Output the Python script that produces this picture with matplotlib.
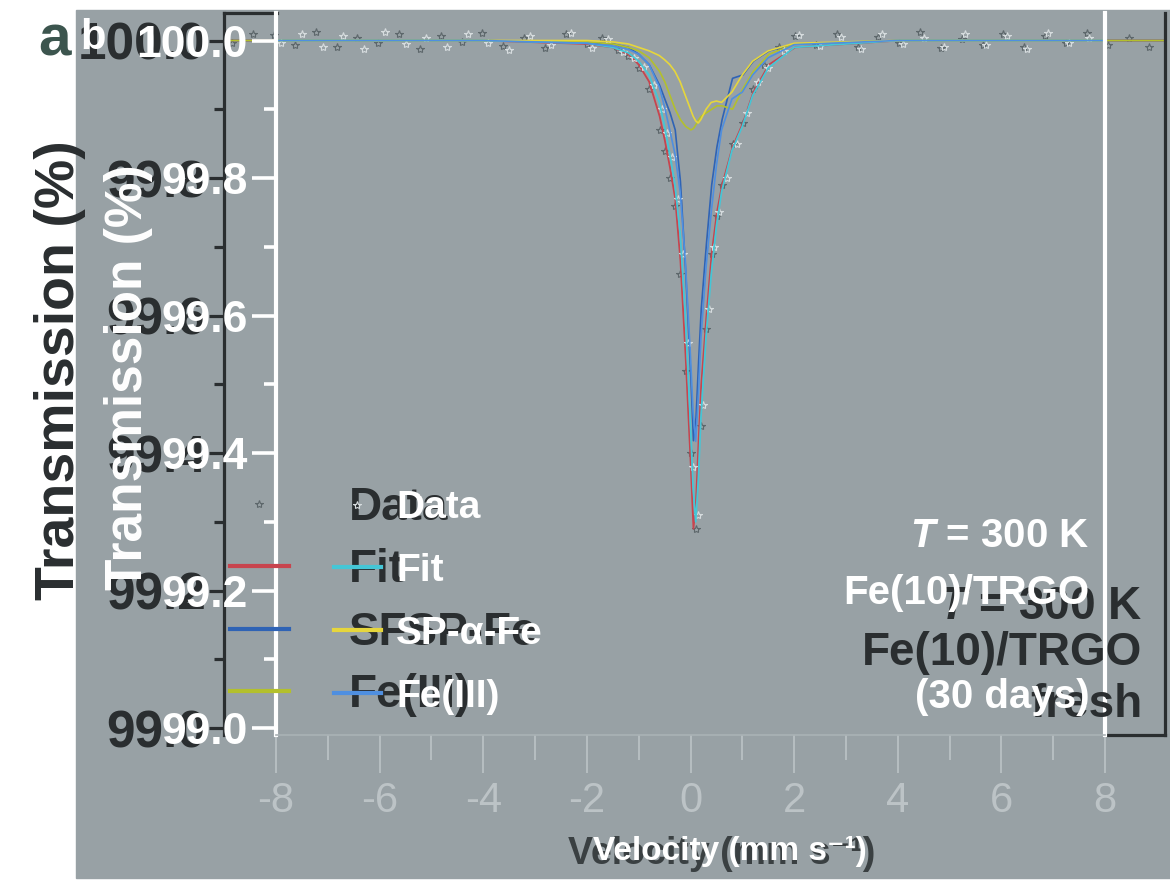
'''
Mossbauer spectra of Fe(10)/TRGO, fresh (a) and after 30 days (b), overlaid scan.
'''

import matplotlib
matplotlib.use('Agg')
import matplotlib as mpl
from matplotlib import pyplot as plt
from matplotlib.patches import Rectangle
from matplotlib.ticker import FormatStrFormatter


mpl.rcParams['font.family'] = ['Liberation Sans', 'DejaVu Sans']
mpl.rcParams['axes.unicode_minus'] = False
mpl.rcParams['mathtext.fontset'] = 'custom'
mpl.rcParams['mathtext.it'] = 'Liberation Sans:italic:bold'
mpl.rcParams['mathtext.rm'] = 'Liberation Sans:bold'

DARK = '#2a2e30'
BG = '#98a1a5'
LIGHT = '#bcc3c6'


# ---- panel a (fresh) : measured points
va_data = [-8.8, -8.4, -8.0, -7.6, -7.2, -6.8, -6.4, -6.0, -5.6, -5.2, -4.8, -4.4, -4.0, -3.6,
           -3.2, -2.8, -2.4, -2.0, -1.7, -1.4, -1.2, -1.0, -0.8, -0.6, -0.5, -0.4, -0.3, -0.2,
           -0.1, 0.0, 0.1, 0.2, 0.3, 0.4, 0.5, 0.6, 0.8, 1.0, 1.2, 1.4, 1.7, 2.0, 2.4, 2.8,
           3.2, 3.6, 4.0, 4.4, 4.8, 5.2, 5.6, 6.0, 6.4, 6.8, 7.2, 7.6, 8.0, 8.4, 8.8]
ta_data = [99.997, 100.009, 100.008, 99.994, 100.012, 99.990, 100.004, 99.996, 100.010, 99.988,
           100.006, 99.998, 100.011, 99.992, 100.003, 99.989, 100.009, 99.995, 100.004, 99.986,
           99.978, 99.960, 99.930, 99.870, 99.840, 99.800, 99.760, 99.660, 99.520, 99.400,
           99.290, 99.440, 99.580, 99.690, 99.745, 99.790, 99.850, 99.880, 99.930, 99.965,
           99.990, 100.007, 99.993, 100.010, 99.991, 100.005, 99.997, 100.012, 99.989, 100.002,
           99.994, 100.009, 99.990, 100.006, 99.996, 100.011, 99.993, 100.004, 99.991]

# ---- panel b (30 days) : measured points
vb_data = [-7.9, -7.5, -7.1, -6.7, -6.3, -5.9, -5.5, -5.1, -4.7, -4.3, -3.9, -3.5, -3.1, -2.7,
           -2.3, -1.9, -1.6, -1.3, -1.1, -0.9, -0.7, -0.55, -0.45, -0.35, -0.25, -0.15, -0.05,
           0.05, 0.15, 0.25, 0.35, 0.45, 0.55, 0.7, 0.9, 1.1, 1.3, 1.5, 1.8, 2.1, 2.5, 2.9,
           3.3, 3.7, 4.1, 4.5, 4.9, 5.3, 5.7, 6.1, 6.5, 6.9, 7.3, 7.7]
tb_data = [99.996, 100.010, 99.991, 100.006, 99.987, 100.012, 99.995, 100.004, 99.990, 100.009,
           99.997, 99.986, 100.007, 99.993, 100.011, 99.989, 100.002, 99.984, 99.975, 99.962,
           99.935, 99.900, 99.865, 99.830, 99.770, 99.690, 99.560, 99.380, 99.310, 99.470,
           99.610, 99.700, 99.750, 99.800, 99.850, 99.895, 99.940, 99.960, 99.985, 100.008,
           99.992, 100.005, 99.988, 100.010, 99.995, 100.003, 99.991, 100.009, 99.994, 100.006,
           99.987, 100.011, 99.996, 100.004]

# ---- fitted curves (velocity grid shared)
v_fit = [-8.9, -4.0, -2.0, -1.5, -1.2, -1.0, -0.8, -0.6, -0.5, -0.4, -0.3, -0.2, -0.1, 0.0,
         0.05, 0.1, 0.15, 0.2, 0.3, 0.4, 0.5, 0.6, 0.8, 1.0, 1.2, 1.5, 2.0, 4.0, 9.1]
fit_a = [100.0, 100.0, 99.995, 99.99, 99.98, 99.965, 99.94, 99.89, 99.855, 99.815, 99.77,
         99.68, 99.54, 99.38, 99.29, 99.33, 99.42, 99.50, 99.60, 99.69, 99.75, 99.79, 99.845,
         99.88, 99.925, 99.965, 99.99, 100.0, 100.0]
sfsp_a = [100.0, 100.0, 99.997, 99.995, 99.99, 99.98, 99.965, 99.935, 99.915, 99.895, 99.87,
          99.795, 99.665, 99.51, 99.418, 99.452, 99.535, 99.61, 99.705, 99.79, 99.845, 99.885,
          99.945, 99.95, 99.97, 99.985, 99.995, 100.0, 100.0]
fe3_a = [100.0, 100.0, 99.998, 99.995, 99.99, 99.985, 99.975, 99.955, 99.94, 99.92, 99.90,
         99.885, 99.875, 99.87, 99.872, 99.878, 99.885, 99.89, 99.895, 99.90, 99.905, 99.905,
         99.90, 99.93, 99.955, 99.98, 99.995, 100.0, 100.0]

fit_b = [100.0, 100.0, 99.996, 99.99, 99.982, 99.97, 99.95, 99.91, 99.875, 99.835, 99.79,
         99.72, 99.60, 99.44, 99.35, 99.30, 99.36, 99.45, 99.57, 99.66, 99.73, 99.78, 99.84,
         99.875, 99.92, 99.96, 99.99, 100.0, 100.0]
afe_b = [100.0, 100.0, 100.0, 99.998, 99.995, 99.99, 99.985, 99.978, 99.972, 99.965, 99.955,
         99.94, 99.92, 99.90, 99.89, 99.883, 99.88, 99.885, 99.90, 99.91, 99.912, 99.91,
         99.925, 99.95, 99.97, 99.985, 99.996, 100.0, 100.0]
fe3_b = [100.0, 100.0, 99.996, 99.992, 99.987, 99.98, 99.965, 99.932, 99.903, 99.87, 99.835,
         99.78, 99.68, 99.54, 99.46, 99.417, 99.48, 99.565, 99.67, 99.75, 99.818, 99.87,
         99.915, 99.925, 99.95, 99.975, 99.994, 100.0, 100.0]

yticks = [99.0, 99.2, 99.4, 99.6, 99.8, 100.0]
yminor = [99.1, 99.3, 99.5, 99.7, 99.9]
xticks = [-8, -6, -4, -2, 0, 2, 4, 6, 8]
xminor = [-7, -5, -3, -1, 1, 3, 5, 7]
labels_a = ['Data', 'Fit', 'SFSP-Fe', 'Fe(III)']
labels_b = ['Data', 'Fit', 'SP-\u03b1-Fe', 'Fe(III)']
notes_a = ['$T$ = 300 K', 'Fe(10)/TRGO', 'fresh']
notes_b = ['$T$ = 300 K', 'Fe(10)/TRGO', '(30 days)']


W, H = 1170, 888
fig = plt.figure(figsize=(W/100, H/100), dpi=100)
fig.add_artist(Rectangle((76/W, 10/H), 1 - 76/W, 1 - 20/H, transform=fig.transFigure,
                         color=BG, zorder=-5))

ax_a = fig.add_axes([224/W, 153/H, 941/W, 722/H])
ax_b = fig.add_axes([276/W, 153/H, 829/W, 722/H])
for ax in (ax_a, ax_b):
	ax.set_facecolor('none')
	ax.set_ylim(98.99, 100.04)

# ---- panel a
ax_a.set_xlim(-8.96, 9.10)
ha0 = ax_a.plot(va_data, ta_data, ls='none', marker='*', ms=6, mfc='none', mec='#5d676b', mew=0.8)[0]
ha1 = ax_a.plot(v_fit, fit_a, color='#c8444e', lw=1.3)[0]
ha2 = ax_a.plot(v_fit, sfsp_a, color='#2f63b5', lw=1.2)[0]
ha3 = ax_a.plot(v_fit, fe3_a, color='#b3c02c', lw=1.2)[0]

for s in ('left', 'right', 'top', 'bottom'):
	ax_a.spines[s].set_color(DARK)
	ax_a.spines[s].set_linewidth(2.3)
ax_a.spines['top'].set_bounds(-8.96, -7.95)
ax_a.spines['bottom'].set_bounds(7.95, 9.10)
ax_a.set_xticks([])
ax_a.set_yticks(yticks)
ax_a.set_yticks(yminor, minor=True)
ax_a.yaxis.set_major_formatter(FormatStrFormatter('%.1f'))
ax_a.tick_params(axis='y', which='major', direction='out', length=11, width=2.3, color=DARK,
                 labelsize=37, labelcolor=DARK, pad=2)
ax_a.tick_params(axis='y', which='minor', direction='out', length=7, width=2.3, color=DARK)
for lab in ax_a.get_yticklabels():
	lab.set_fontweight('bold')
ax_a.set_ylabel('Transmission (%)', fontsize=40, fontweight='bold', color=DARK)
ax_a.yaxis.set_label_coords(-0.147, 0.506)
ax_a.set_xlabel('Velocity (mm s\u207b\u00b9)', fontsize=27, fontweight='bold', color='#3a4042')
ax_a.xaxis.set_label_coords(0.529, -0.14)

# ---- panel b
ax_b.set_xlim(-8.0, 7.95)
hb0 = ax_b.plot(vb_data, tb_data, ls='none', marker='*', ms=6, mfc='none', mec='#d6dcde', mew=0.8)[0]
hb1 = ax_b.plot(v_fit, fit_b, color='#45c6d6', lw=1.3)[0]
hb2 = ax_b.plot(v_fit, afe_b, color='#e6d63c', lw=1.2)[0]
hb3 = ax_b.plot(v_fit, fe3_b, color='#4f8fe0', lw=1.2)[0]

for s in ('left', 'right'):
	ax_b.spines[s].set_color('white')
	ax_b.spines[s].set_linewidth(3)
ax_b.spines['top'].set_visible(False)
ax_b.spines['bottom'].set_color('#aab2b5')
ax_b.spines['bottom'].set_linewidth(1.2)
ax_b.set_yticks(yticks)
ax_b.set_yticks(yminor, minor=True)
ax_b.yaxis.set_major_formatter(FormatStrFormatter('%.1f'))
ax_b.set_xticks(xticks)
ax_b.set_xticks(xminor, minor=True)
ax_b.tick_params(axis='y', which='major', direction='out', length=17, width=2.6, color='white',
                 labelsize=32, labelcolor='white', pad=3.5)
ax_b.tick_params(axis='y', which='minor', direction='out', length=9, width=2.6, color='white')
ax_b.tick_params(axis='x', which='major', direction='out', length=27, width=1.2, color=LIGHT,
                 labelsize=30, labelcolor=LIGHT, pad=6)
ax_b.tick_params(axis='x', which='minor', direction='out', length=18, width=1.2, color=LIGHT)
for lab in ax_b.get_yticklabels():
	lab.set_fontweight('bold')
ax_b.set_ylabel('Transmission (%)', fontsize=37, fontweight='bold', color='white')
ax_b.yaxis.set_label_coords(-0.148, 0.495)
ax_b.set_xlabel('Velocity (mm s\u207b\u00b9)', fontsize=24, fontweight='bold', color='white')
ax_b.xaxis.set_label_coords(0.548, -0.14)

# ---- legends
leg_a = fig.legend([ha0, ha1, ha2, ha3], labels_a, loc='upper left', bbox_to_anchor=(0.006, 0.345),
                   bbox_transform=ax_a.transAxes, frameon=False, handlelength=1.3,
                   handletextpad=1.3, labelspacing=0.40, borderpad=0, borderaxespad=0,
                   prop=dict(size=33, weight='bold'), labelcolor=DARK)
for h in leg_a.legend_handles[1:]:
	h.set_linewidth(3)
leg_b = fig.legend([hb0, hb1, hb2, hb3], labels_b, loc='upper left', bbox_to_anchor=(0.070, 0.339),
                   bbox_transform=ax_b.transAxes, frameon=False, handlelength=1.2,
                   handletextpad=0.4, labelspacing=0.69, borderpad=0, borderaxespad=0,
                   prop=dict(size=28, weight='bold'), labelcolor='white')
for h in leg_b.legend_handles[1:]:
	h.set_linewidth(3)

# ---- sample notes
for txt, y in zip(notes_a, [0.177, 0.1136, 0.0416]):
	fig.text(0.9756, y, txt, transform=ax_a.transAxes, ha='right', va='center',
	         fontsize=33, fontweight='bold', color=DARK)
for txt, y in zip(notes_b, [0.2756, 0.1967, 0.0526]):
	fig.text(0.981, y, txt, transform=ax_b.transAxes, ha='right', va='center',
	         fontsize=29, fontweight='bold', color='white')

# panel letters
fig.text(55/W, 1 - 40/H, 'a', ha='center', va='center', fontsize=42, fontweight='bold', color='#3c554e')
fig.text(93/W, 1 - 38/H, 'b', ha='center', va='center', fontsize=30, fontweight='bold', color='white')

fig.savefig('out.png', dpi=100)
